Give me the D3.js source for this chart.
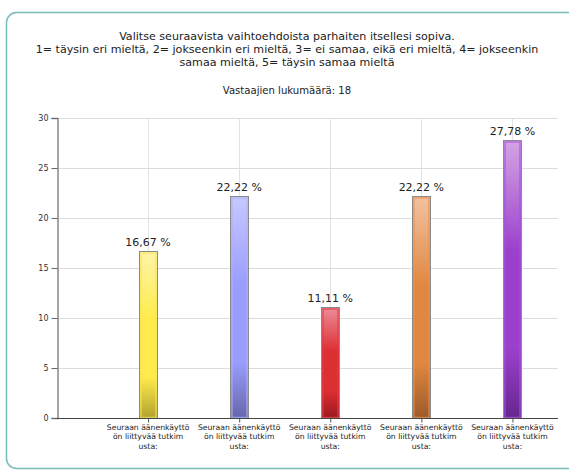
<!DOCTYPE html>
<html><head><meta charset="utf-8">
<script src="https://cdn.jsdelivr.net/npm/d3@7/dist/d3.min.js"></script>
<style>body{margin:0;background:#fff;}svg{display:block;}</style>
</head><body>
<svg id="c" width="569" height="470"></svg>
<script>
const titleLines = ["Valitse seuraavista vaihtoehdoista parhaiten itsellesi sopiva.",
  "1= täysin eri mieltä, 2= jokseenkin eri mieltä, 3= ei samaa, eikä eri mieltä, 4= jokseenkin",
  "samaa mieltä, 5= täysin samaa mieltä"];
const subtitle = "Vastaajien lukumäärä: 18";
const categories = [1, 2, 3, 4, 5];
const catLabelLines = ["Seuraan äänenkäyttö", "ön liittyvää tutkim", "usta:"];
const values = [16.67, 22.22, 11.11, 22.22, 27.78];
const valueLabels = ["16,67 %", "22,22 %", "11,11 %", "22,22 %", "27,78 %"];
const yTicks = [0, 5, 10, 15, 20, 25, 30];
const colors = [
  {top:"#fff3a8", mid:"#ffec4c", bot:"#b3a22e", edge:"#f5e45a"},
  {top:"#c8c8ff", mid:"#9a9cff", bot:"#6666aa", edge:"#aab0ff"},
  {top:"#ec8c98", mid:"#dd2e32", bot:"#9c1820", edge:"#e04048"},
  {top:"#f2c2a0", mid:"#e08842", bot:"#9c5a28", edge:"#e89050"},
  {top:"#d4a4e4", mid:"#9a40cc", bot:"#66268e", edge:"#a850d8"}
];

const svg = d3.select("#c");
const font = "DejaVu Sans, Verdana, sans-serif";

// frame
svg.append("rect").attr("x", 6.5).attr("y", 12.5).attr("width", 580).attr("height", 456)
  .attr("rx", 10).attr("fill", "#fff").attr("stroke", "#78bcb8").attr("stroke-width", 1.5);

// titles
const tt = svg.append("g").attr("font-family", font).attr("fill", "#222").attr("text-anchor", "middle");
titleLines.forEach((t, i) => {
  tt.append("text").attr("x", 287).attr("y", 39.5 + i * 13.3).attr("font-size", 11.1).text(t);
});
tt.append("text").attr("x", 287).attr("y", 94).attr("font-size", 10.1).text(subtitle);

const x = d3.scaleLinear().domain([0, 5.5]).range([57, 558]);
const y = d3.scaleLinear().domain([0, 30]).range([418, 118]);

const defs = svg.append("defs");
colors.forEach((c, i) => {
  const g = defs.append("linearGradient").attr("id", "g" + i).attr("x1", 0).attr("y1", 0).attr("x2", 0).attr("y2", 1);
  g.append("stop").attr("offset", "0%").attr("stop-color", c.top);
  g.append("stop").attr("offset", "40%").attr("stop-color", c.mid);
  g.append("stop").attr("offset", "75%").attr("stop-color", c.mid);
  g.append("stop").attr("offset", "100%").attr("stop-color", c.bot);
});

// grid
svg.append("g").selectAll("line").data(yTicks.filter(d => d > 0)).join("line")
  .attr("x1", 57).attr("x2", 558).attr("y1", d => Math.round(y(d)) + 0.5).attr("y2", d => Math.round(y(d)) + 0.5)
  .attr("stroke", "#dcdcdc");
svg.append("g").selectAll("line").data(categories).join("line")
  .attr("x1", d => Math.round(x(d)) + 0.5).attr("x2", d => Math.round(x(d)) + 0.5)
  .attr("y1", 118).attr("y2", 418).attr("stroke", "#e2e2e2");

// y axis
const yAxis = svg.append("g").attr("transform", "translate(57.5,0)")
  .call(d3.axisLeft(y).tickValues(yTicks).tickSize(6).tickPadding(3));
yAxis.select(".domain").attr("stroke", "#888").attr("stroke-width", 1.5);
yAxis.selectAll(".tick line").attr("stroke", "#666");
yAxis.selectAll(".tick text").attr("font-family", font).attr("font-size", 8).attr("fill", "#333");

// bars
const bw = 18;
const bars = svg.append("g");
values.forEach((v, i) => {
  const cx = x(categories[i]);
  const x0 = Math.round(cx - bw / 2) + 0.5;
  const y0 = Math.round(y(v)) + 0.5;
  const h = y(0) - y0;
  bars.append("rect").attr("x", x0).attr("y", y0).attr("width", bw).attr("height", h)
    .attr("fill", `url(#g${i})`).attr("stroke", "#8a8a8a").attr("stroke-width", 1);
  bars.append("rect").attr("x", x0 + 1.5).attr("y", y0 + 1.5).attr("width", bw - 3).attr("height", h - 2)
    .attr("fill", "none").attr("stroke", colors[i].edge).attr("stroke-opacity", 0.7).attr("stroke-width", 1.5);
  svg.append("text").attr("x", cx).attr("y", y0 - 6).attr("text-anchor", "middle")
    .attr("font-family", font).attr("font-size", 11).attr("fill", "#222").text(valueLabels[i]);
});

// x axis
const xAxis = svg.append("g").attr("transform", "translate(0,418.5)")
  .call(d3.axisBottom(x).tickValues(categories).tickSize(4).tickFormat(""));
xAxis.select(".domain").attr("stroke", "#444").attr("d", "M57,0H558");
xAxis.selectAll(".tick line").attr("stroke", "#555");
const lab = svg.append("g").attr("font-family", font).attr("font-size", 7.7).attr("fill", "#222").attr("text-anchor", "middle");
categories.forEach(c => {
  catLabelLines.forEach((t, j) => {
    lab.append("text").attr("x", x(c)).attr("y", 430 + j * 9.3).text(t);
  });
});
</script>
</body></html>
